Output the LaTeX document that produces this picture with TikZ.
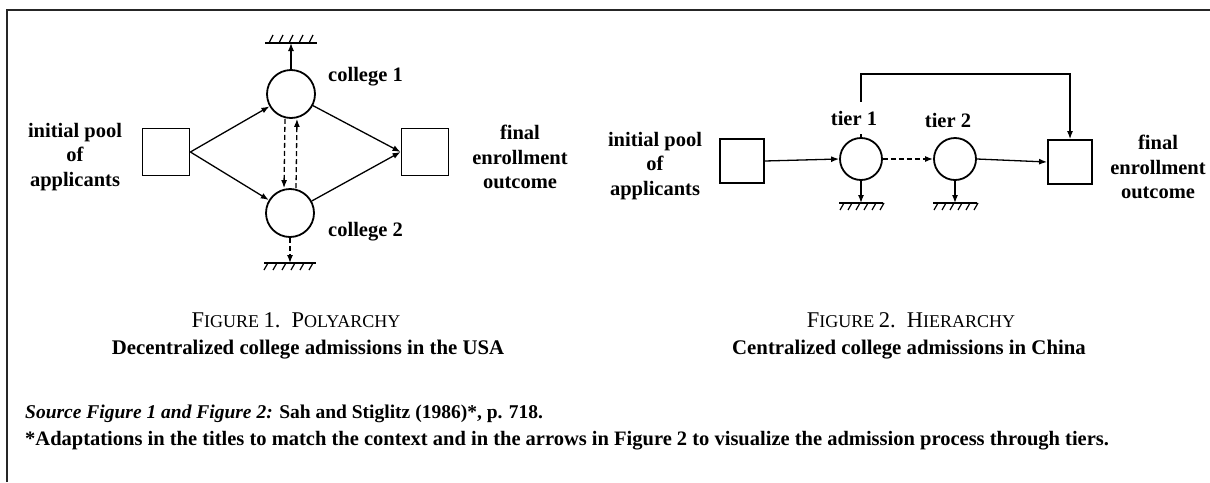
\documentclass[tikz,border=0pt]{standalone}
\usepackage{fontspec}
\setmainfont{Liberation Serif}
\usetikzlibrary{arrows.meta}
\newcommand{\lbl}{\fontsize{20.5}{24.5}\selectfont\bfseries}
\newcommand{\capbig}{\fontsize{22.5}{26}\selectfont}
\newcommand{\capsmall}{\fontsize{18}{26}\selectfont}
\tikzset{
  every picture/.style={x=1pt,y=-1pt},
  boxnode/.style={draw,line width=1.8pt,minimum size=47pt,inner sep=0pt},
  circnode/.style={draw,circle,line width=1.8pt,minimum size=48pt,inner sep=0pt},
  smallbox/.style={draw,line width=1.8pt,minimum size=44pt,inner sep=0pt},
  smallcirc/.style={draw,circle,line width=1.8pt,minimum size=42pt,inner sep=0pt},
  arr/.style={line width=1.3pt,-{Latex[length=8pt,width=6pt]}},
  darr/.style={line width=1.3pt,dash pattern=on 5pt off 3pt,-{Latex[length=8pt,width=6pt]}},
  txt/.style={align=center,font=\lbl,inner sep=0pt},
  bigtxt/.style={inner sep=0pt,font=\fontsize{20.8}{24}\selectfont\bfseries},
  groundabove/.pic={
    \draw[line width=1.5pt] (-26,0) -- (26,0);
    \foreach \i in {-22,-12,-2,8,18} \draw[line width=1.2pt] (\i,0) -- (\i+4,-8);
  },
  groundbelow/.pic={
    \draw[line width=1.5pt] (-26,0) -- (26,0);
    \foreach \i in {-22,-13,-4,5,14,23} \draw[line width=1.2pt] (\i,0) -- (\i-4,7);
  },
  groundsmall/.pic={
    \draw[line width=1.5pt] (-22,0) -- (22,0);
    \foreach \i in {-17,-9,-1,7,15,23} \draw[line width=1.2pt] (\i,0) -- (\i-4,7);
  }
}
\begin{document}
\begin{tikzpicture}
\useasboundingbox (0,0) rectangle (1210,482);
% frame
\draw[line width=2pt,black!85] (7,482) -- (7,10) -- (1210,10);

% ---------------- Figure 1 ----------------
\node[boxnode] (L1) at (166,152) {};
\node[boxnode] (R1) at (425,152) {};
\node[circnode] (c1) at (291,94) {};
\node[circnode] (c2) at (290,213) {};
\coordinate (g1) at (291,43);
\coordinate (g2) at (290,263);
\pic at (g1) {groundabove};
\pic at (g2) {groundbelow};
\draw[arr] (c1.north) -- (g1);
\draw[darr] (c2.south) -- (g2);
\draw[arr] (L1.east) -- (c1);
\draw[arr] (L1.east) -- (c2);
\draw[arr] (c1) -- (R1.west);
\draw[arr] (c2) -- (R1.west);
\draw[darr] ([xshift=-6pt]c1.south) -- ([xshift=-6pt]c2.north);
\draw[darr] ([xshift=6pt]c2.north) -- ([xshift=6pt]c1.south);
\node[txt,anchor=west] (c1l) at (328,77) {college 1};
\node[txt,anchor=west] (c2l) at (328,232) {college 2};
\node[txt] (ip1) at (75,157) {initial pool\\of\\applicants};
\node[txt] (fe1) at (520,157) {final\\enrollment\\outcome};
\node[inner sep=0pt] (cap1) at (296,320) {\capbig F\capsmall IGURE \capbig 1.\enspace P\capsmall OLYARCHY};
\node[bigtxt] (sub1) at (308,350) {Decentralized college admissions in the USA};

% ---------------- Figure 2 ----------------
\node[smallbox] (L2) at (742,161) {};
\node[smallbox] (R2) at (1070,162) {};
\node[smallcirc] (t1) at (861,159) {};
\node[smallcirc] (t2) at (955,159) {};
\coordinate (g3) at (861,203);
\coordinate (g4) at (955,203);
\pic at (g3) {groundsmall};
\pic at (g4) {groundsmall};
\draw[arr] (t1.south) -- (g3);
\draw[arr] (t2.south) -- (g4);
\draw[arr] (L2.east) -- (t1.west);
\draw[darr] (t1.east) -- (t2.west);
\draw[arr] (t2.east) -- (R2.west);
\coordinate (top) at (861,74);
\draw[arr] (t1.north) -- (top) -| (R2.north);
\node[txt,fill=white,inner ysep=9pt,inner xsep=2pt] (t1l) at (854,118) {tier 1};
\node[txt] (t2l) at (948,120) {tier 2};
\node[txt] (ip2) at (655,166) {initial pool\\of\\applicants};
\node[txt] (fe2) at (1158,167) {final\\enrollment\\outcome};
\node[inner sep=0pt] (cap2) at (911,320) {\capbig F\capsmall IGURE \capbig 2.\enspace H\capsmall IERARCHY};
\node[bigtxt] (sub2) at (909,350) {Centralized college admissions in China};

% ---------------- Notes ----------------
\node[anchor=west,inner sep=0pt,font=\fontsize{19.5}{24}\selectfont\bfseries] (src) at (25,414) {\textit{Source Figure 1 and Figure 2:} Sah and Stiglitz (1986)*, p. 718.};
\node[anchor=west,inner sep=0pt,font=\fontsize{20.5}{24}\selectfont\bfseries] (note) at (25,441) {*Adaptations in the titles to match the context and in the arrows in Figure 2 to visualize the admission process through tiers.};
\end{tikzpicture}
\end{document}
